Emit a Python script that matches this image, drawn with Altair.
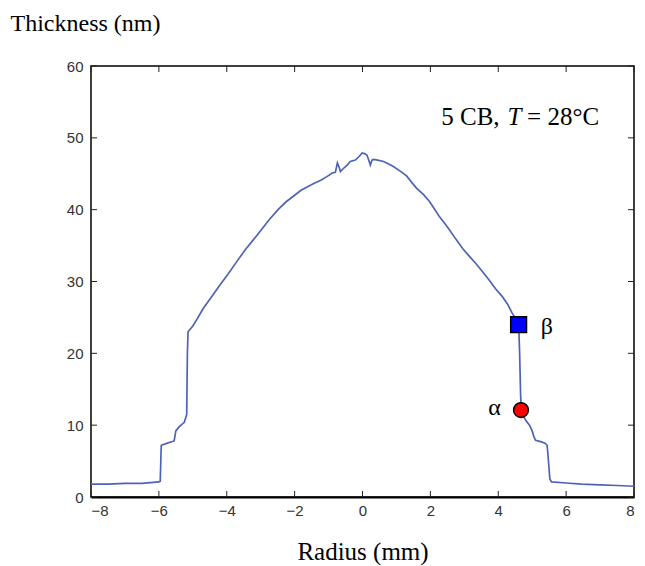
import altair as alt
import pandas as pd

# ---- data ----
radius = [-8.0, -7.5, -7.0, -6.5, -6.0, -5.96, -5.93, -5.75, -5.55, -5.5, -5.4, -5.25,
          -5.18, -5.16, -5.14, -5.0, -4.87, -4.7, -4.44, -4.2, -3.95, -3.7, -3.46, -3.2,
          -2.98, -2.75, -2.49, -2.25, -2.0, -1.81, -1.62, -1.45, -1.23, -1.05, -0.89, -0.8,
          -0.74, -0.68, -0.65, -0.55, -0.45, -0.36, -0.21, -0.1, -0.01, 0.06, 0.13, 0.19,
          0.23, 0.28, 0.33, 0.45, 0.62, 0.8, 0.91, 1.1, 1.3, 1.45, 1.59, 1.8, 1.98, 2.12,
          2.27, 2.42, 2.56, 2.75, 2.95, 3.15, 3.34, 3.55, 3.73, 3.92, 4.12, 4.28, 4.41,
          4.52, 4.60, 4.63, 4.66, 4.68, 4.75, 4.82, 4.92, 5.0, 5.05, 5.1, 5.25, 5.38, 5.44,
          5.47, 5.52, 5.57, 6.0, 6.45, 7.0, 7.5, 8.0]
thickness = [1.8, 1.8, 1.9, 1.9, 2.1, 2.2, 7.2, 7.5, 7.8, 9.2, 9.8, 10.4,
             11.5, 20.0, 23.0, 23.8, 24.8, 26.2, 27.9, 29.5, 31.1, 32.8, 34.4, 35.9,
             37.2, 38.6, 40.0, 41.1, 42.0, 42.7, 43.2, 43.6, 44.1, 44.6, 45.1, 45.2,
             46.5, 45.8, 45.3, 45.8, 46.2, 46.7, 46.9, 47.4, 47.9, 47.8, 47.6, 46.8,
             46.2, 46.9, 47.0, 46.9, 46.7, 46.3, 46.0, 45.4, 44.7, 43.8, 43.0, 42.1, 41.1, 40.1,
             39.0, 38.1, 37.2, 35.9, 34.6, 33.5, 32.5, 31.3, 30.2, 29.0, 27.9, 26.8, 25.6,
             24.8, 24.2, 20.0, 14.0, 12.1, 11.2, 10.6, 10.0, 9.2, 8.4, 7.9, 7.7, 7.5, 7.2,
             5.6, 2.5, 2.1, 1.95, 1.8, 1.7, 1.6, 1.5]

marker_names = ["beta", "alpha"]
marker_x = [4.60, 4.67]
marker_y = [24.0, 12.1]

greek_labels = ["β", "α"]
greek_x = [5.43, 3.89]
greek_y = [23.7, 12.4]

note_parts = ["5 CB,", "T", "= 28°C"]
note_x = [2.32, 4.27, 4.85]
note_y = [51.8, 51.8, 51.8]
note_style = ["normal", "italic", "normal"]

x_ticks = [-8, -6, -4, -2, 0, 2, 4, 6, 8]
y_ticks = [0, 10, 20, 30, 40, 50, 60]

W, H = 543, 431
SERIF = "Liberation Serif"
SANS = "Liberation Sans"

curve = pd.DataFrame({"x": radius, "y": thickness})
xs = alt.Scale(domain=[-8, 8], nice=False)
ys = alt.Scale(domain=[0, 60], nice=False)

line = alt.Chart(curve).mark_line(color="#4f63b6", strokeWidth=1.7).encode(
    x=alt.X("x:Q", scale=xs,
            axis=alt.Axis(values=x_ticks, ticks=False, grid=False, domain=True,
                          domainColor="black", domainWidth=2,
                          labelFont=SANS, labelFontSize=15, labelColor="#333333",
                          labelPadding=6,
                          title="Radius (mm)", titleFont=SERIF, titleFontSize=25,
                          titleFontWeight="normal", titleColor="black",
                          titleBaseline="alphabetic", titleY=62)),
    y=alt.Y("y:Q", scale=ys,
            axis=alt.Axis(values=y_ticks, ticks=False, grid=False, domain=False,
                          labelFont=SANS, labelFontSize=15, labelColor="#333333",
                          labelPadding=8,
                          title="Thickness (nm)", titleFont=SERIF, titleFontSize=24,
                          titleFontWeight="normal", titleColor="black",
                          titleAngle=0, titleAlign="left", titleBaseline="alphabetic",
                          titleX=-81, titleY=-36)),
    order=alt.Order("idx:Q"),
).transform_window(idx="row_number()")

mk = pd.DataFrame({"name": marker_names, "x": marker_x, "y": marker_y})
square = alt.Chart(mk).transform_filter(alt.datum.name == "beta").mark_point(
    shape="square", filled=True, fill="#0000ff", stroke="black", strokeWidth=1.5,
    size=250, opacity=1).encode(x=alt.X("x:Q", scale=xs), y=alt.Y("y:Q", scale=ys))
circle = alt.Chart(mk).transform_filter(alt.datum.name == "alpha").mark_point(
    shape="circle", filled=True, fill="#ff0000", stroke="black", strokeWidth=1.5,
    size=220, opacity=1).encode(x=alt.X("x:Q", scale=xs), y=alt.Y("y:Q", scale=ys))

gk = pd.DataFrame({"t": greek_labels, "x": greek_x, "y": greek_y})
greek = alt.Chart(gk).mark_text(font=SERIF, fontSize=24, color="black",
                                align="center", baseline="middle").encode(
    x=alt.X("x:Q", scale=xs), y=alt.Y("y:Q", scale=ys), text="t:N")

nt = pd.DataFrame({"t": note_parts, "x": note_x, "y": note_y, "s": note_style})
note_normal = alt.Chart(nt).transform_filter(alt.datum.s == "normal").mark_text(
    font=SERIF, fontSize=25, color="black", align="left", baseline="alphabetic").encode(
    x=alt.X("x:Q", scale=xs), y=alt.Y("y:Q", scale=ys), text="t:N")
note_italic = alt.Chart(nt).transform_filter(alt.datum.s == "italic").mark_text(
    font=SERIF, fontSize=25, fontStyle="italic", color="black", align="left",
    baseline="alphabetic").encode(
    x=alt.X("x:Q", scale=xs), y=alt.Y("y:Q", scale=ys), text="t:N")

xt = pd.DataFrame({"v": x_ticks})
yt = pd.DataFrame({"v": y_ticks})
TL = 6
tick_style = dict(color="#222222", strokeWidth=1)
bottom_ticks = alt.Chart(xt).mark_rule(**tick_style).encode(
    x=alt.X("v:Q", scale=xs), y=alt.value(H), y2=alt.value(H - TL))
top_ticks = alt.Chart(xt).mark_rule(**tick_style).encode(
    x=alt.X("v:Q", scale=xs), y=alt.value(0), y2=alt.value(TL))
left_ticks = alt.Chart(yt).mark_rule(**tick_style).encode(
    y=alt.Y("v:Q", scale=ys), x=alt.value(0), x2=alt.value(TL))
right_ticks = alt.Chart(yt).mark_rule(**tick_style).encode(
    y=alt.Y("v:Q", scale=ys), x=alt.value(W), x2=alt.value(W - TL))

chart = alt.layer(
    line, bottom_ticks, top_ticks, left_ticks, right_ticks,
    square, circle, greek, note_normal, note_italic
).properties(
    width=W, height=H,
    padding={"left": 83, "top": 58, "right": 3, "bottom": 69},
    autosize=alt.AutoSizeParams(type="none"),
    background="white",
).configure_view(
    stroke="black", strokeWidth=1.5
)

chart.save("out.html", embed_options={"renderer": "svg", "actions": False})
